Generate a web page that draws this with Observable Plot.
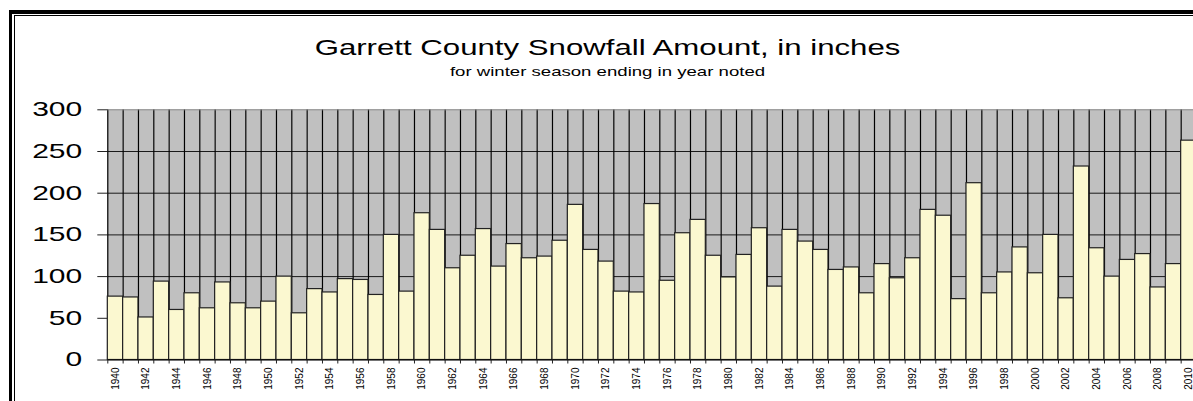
<!DOCTYPE html>
<html>
<head>
<meta charset="utf-8">
<script src="https://cdn.jsdelivr.net/npm/d3@7"></script>
<script src="https://cdn.jsdelivr.net/npm/@observablehq/plot@0.6"></script>
<style>
  html, body { margin: 0; padding: 0; background: #fff; overflow: hidden; }
  #wrap { position: relative; width: 1200px; height: 401px; font-family: "Liberation Sans", Arial, sans-serif; }
  #frameOuter { position: absolute; left: 9px; top: 10px; width: 2000px; height: 1000px; border-top: 4px solid #000; border-left: 3px solid #000; }
  #frameInner { position: absolute; left: 14px; top: 15px; width: 2000px; height: 1000px; border-top: 1px solid #000; border-left: 1px solid #000; }
  #header { position: relative; height: 90px; }
  #title { position: absolute; left: 0; width: 1215px; top: 36.5px; text-align: center; font-size: 21.5px; line-height: 22px; color: #000; transform: scaleX(1.45); transform-origin: 607.5px 0; white-space: nowrap; }
  #subtitle { position: absolute; left: 0; width: 1215px; top: 64.5px; text-align: center; font-size: 13px; line-height: 14px; color: #000; transform: scaleX(1.43); transform-origin: 607.5px 0; white-space: nowrap; }
  #chart { position: relative; }
  #chart svg { display: block; }
</style>
</head>
<body>
<div id="wrap">
  <div id="frameOuter"></div>
  <div id="frameInner"></div>
  <div id="header">
    <div id="title">Garrett County Snowfall Amount, in inches</div>
    <div id="subtitle">for winter season ending in year noted</div>
  </div>
  <div id="chart"></div>
</div>
<script>
const years = d3.range(1940, 2011);
const snowfall = [
  76, 75, 51, 94, 60, 80, 62, 93, 68, 62,
  70, 100, 56, 85, 81, 97, 96, 78, 150, 82,
  176, 156, 110, 125, 157, 112, 139, 122, 124, 143,
  186, 132, 118, 82, 81, 187, 95, 152, 168, 125,
  99, 126, 158, 88, 156, 142, 132, 108, 111, 80,
  115, 98, 122, 180, 173, 73, 212, 80, 105, 135,
  104, 150, 74, 232, 134, 100, 120, 127, 87, 115,
  263
];
const yTicks = [0, 50, 100, 150, 200, 250, 300];
const gridValues = [50, 100, 150, 200, 250];
const labelYears = years.filter(y => y % 2 === 0);
const yMax = 300;

const data = years.map((year, i) => ({year, value: snowfall[i]}));
const boundaries = years.map(y => y - 0.5).concat([years[years.length - 1] + 0.5]);

const chart = Plot.plot({
  width: 1200,
  height: 311,
  marginTop: 19.3,
  marginBottom: 41.5,
  marginLeft: 107.3,
  marginRight: 4,
  style: { background: "transparent", fontFamily: "Liberation Sans, Arial, sans-serif", color: "#000" },
  x: { type: "linear", domain: [1939.5, 2010.5] },
  y: { domain: [0, yMax] },
  marks: [
    Plot.rectY(data, { x1: d => d.year - 0.5, x2: d => d.year + 0.5, y1: 0, y2: yMax, fill: "#C0C0C0" }),
    Plot.ruleY(gridValues, { stroke: "#1a1a1a", strokeWidth: 1 }),
    Plot.ruleX(boundaries, { y1: 0, y2: yMax, stroke: "#000", strokeWidth: 1.2 }),
    Plot.rectY(data, { x1: d => d.year - 0.5, x2: d => d.year + 0.5, y1: 0, y2: "value", fill: "#FBF8D0", stroke: "#222", strokeWidth: 1.2 }),
    Plot.ruleY([yMax], { stroke: "#8a8a8a", strokeWidth: 1 }),
    Plot.ruleY([0], { stroke: "#000", strokeWidth: 1.2 }),
    Plot.axisY(yTicks, { tickSize: 10, tickPadding: 15.6, fontSize: 20, stroke: "#222", fill: "#000", tickFormat: d => String(d), label: null }),
    Plot.axisX(boundaries, { tickSize: 4, tickFormat: () => "", stroke: "#222", label: null }),
    Plot.axisX(labelYears, { tickSize: 0, tickPadding: 7.5, tickRotate: -90, fontSize: 10, fill: "#000", tickFormat: d => String(d), label: null })
  ]
});

document.getElementById("chart").appendChild(chart);

// Stretch the y tick labels horizontally (the reference's type is widened), keeping their right edge fixed.
const labelGroup = chart.querySelector('[aria-label="y-axis tick label"]');
if (labelGroup) {
  const bb = labelGroup.getBBox();
  const rx = bb.x + bb.width;
  const old = labelGroup.getAttribute("transform") || "";
  labelGroup.setAttribute("transform", `${old} translate(${rx},0) scale(1.5,1) translate(${-rx},0)`);
}
</script>
</body>
</html>
